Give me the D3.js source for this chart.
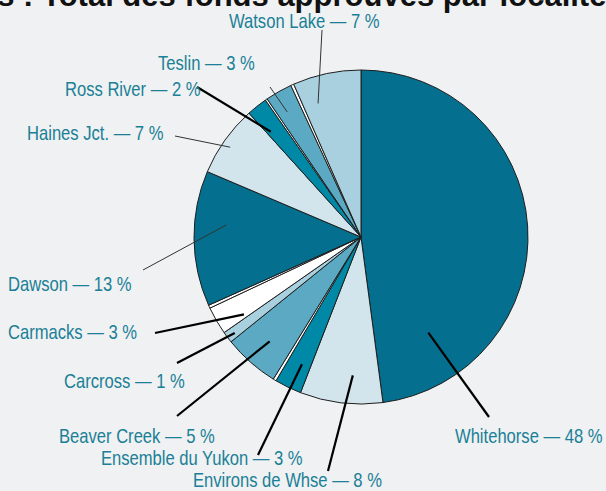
<!DOCTYPE html>
<html>
<head>
<meta charset="utf-8">
<script src="https://cdn.jsdelivr.net/npm/d3@7"></script>
<style>
  html, body { margin: 0; padding: 0; background: #eff1f2; overflow: hidden; }
</style>
</head>
<body>
<div class="pie_chart"></div>
<script>
// Localités, dans l'ordre des tranches (sens horaire depuis midi)
const names = ["Whitehorse", "Environs de Whse", "Ensemble du Yukon", "", "Beaver Creek",
  "Carcross", "Carmacks", "", "Dawson", "Haines Jct.", "Ross River", "", "Teslin", "", "Watson Lake"];
// part réelle de chaque tranche (%)
const shares = [47.9, 8.0, 2.6, 0.3, 5.4, 1.1, 2.7, 0.3, 13.1, 6.9, 2.0, 0.2, 2.6, 0.3, 6.6];
// pourcentage affiché dans l'étiquette
const labelPct = [48, 8, 3, null, 5, 1, 3, null, 13, 7, 2, null, 3, null, 7];

const sliceColors = ["#046f8e", "#d2e5ed", "#0089a6", "#ffffff", "#5ba9c3",
  "#a9d0de", "#ffffff", "#ffffff", "#046f8e", "#d2e5ed", "#0089a6", "#ffffff", "#5ba9c3", "#ffffff", "#a9d0de"];

// mise en page des étiquettes:
// [x texte, y ligne de base, fin du trait x, y, position dans la tranche (0-1), rayon relatif, trait épais]
const labelLayout = {
  "Whitehorse":        [455, 443, 489, 417, 0.84, 0.70, true],
  "Environs de Whse":  [193, 487, 328, 471, 0.38, 0.83, true],
  "Ensemble du Yukon": [101, 465, 258, 455, 0.39, 0.84, true],
  "Beaver Creek":      [59, 443, 177, 416, 0.49, 0.83, true],
  "Carcross":          [64, 388, 177, 363, 0.41, 0.95, true],
  "Carmacks":          [8, 339, 155, 333, 0.15, 0.84, true],
  "Dawson":            [8, 291, 143, 270, 0.62, 0.81, false],
  "Haines Jct.":       [27, 140, 175, 136, 0.46, 0.95, false],
  "Ross River":        [65, 96, 197, 87, 0.21, 0.83, true],
  "Teslin":            [158, 70, 270, 87, 0.39, 0.87, false],
  "Watson Lake":       [229, 28, 322, 30, 0.25, 0.84, false]
};

const width = 606, height = 491;
const cx = 361, cy = 237, radius = 167;

const svg = d3.select(".pie_chart").append("svg")
  .attr("width", width)
  .attr("height", height);

svg.append("rect").attr("width", width).attr("height", height).attr("fill", "#eff1f2");

const data = d3.range(names.length);
const arcs = d3.pie().sort(null).value(i => shares[i])(data);
const arc = d3.arc().innerRadius(0).outerRadius(radius);

const g = svg.append("g").attr("transform", `translate(${cx},${cy})`);

g.selectAll("path")
  .data(arcs)
  .join("path")
  .attr("d", arc)
  .attr("fill", d => sliceColors[d.data])
  .attr("stroke", "#1e1e1e")
  .attr("stroke-width", 1)
  .attr("stroke-linejoin", "round");

// point d'ancrage du trait dans la tranche
function anchor(d) {
  const L = labelLayout[names[d.data]];
  const a = d.startAngle + (d.endAngle - d.startAngle) * L[4];
  const r = radius * L[5];
  return [r * Math.sin(a), -r * Math.cos(a)];
}

// traits de rappel
const labelled = arcs.filter(d => labelLayout[names[d.data]]);
g.selectAll("line.leader")
  .data(labelled)
  .join("line")
  .attr("class", "leader")
  .attr("x1", d => anchor(d)[0])
  .attr("y1", d => anchor(d)[1])
  .attr("x2", d => labelLayout[names[d.data]][2] - cx)
  .attr("y2", d => labelLayout[names[d.data]][3] - cy)
  .attr("stroke", d => labelLayout[names[d.data]][6] ? "#000" : "#333")
  .attr("stroke-width", d => labelLayout[names[d.data]][6] ? 2.2 : 1);

svg.append("g")
  .attr("font-family", "Liberation Sans, Arial, sans-serif")
  .attr("font-size", 20)
  .attr("fill", "#1a7f97")
  .selectAll("text")
  .data(labelled)
  .join("text")
  .attr("transform", d => {
    const L = labelLayout[names[d.data]];
    return `translate(${L[0]},${L[1]}) scale(0.83,1)`;
  })
  .text(d => `${names[d.data]} \u2014 ${labelPct[d.data]} %`);

// titre (coupé en haut)
const title = svg.append("text")
  .attr("font-family", "Liberation Sans, Arial, sans-serif")
  .attr("font-weight", "bold")
  .attr("font-size", 31)
  .attr("fill", "#111")
  .attr("y", 6);
const pre = title.append("tspan").text("Projets : ");
title.append("tspan").text("Total des fonds approuvés par localité");
const preLen = pre.node().getComputedTextLength();
title.attr("x", 42 - preLen);
</script>
</body>
</html>
